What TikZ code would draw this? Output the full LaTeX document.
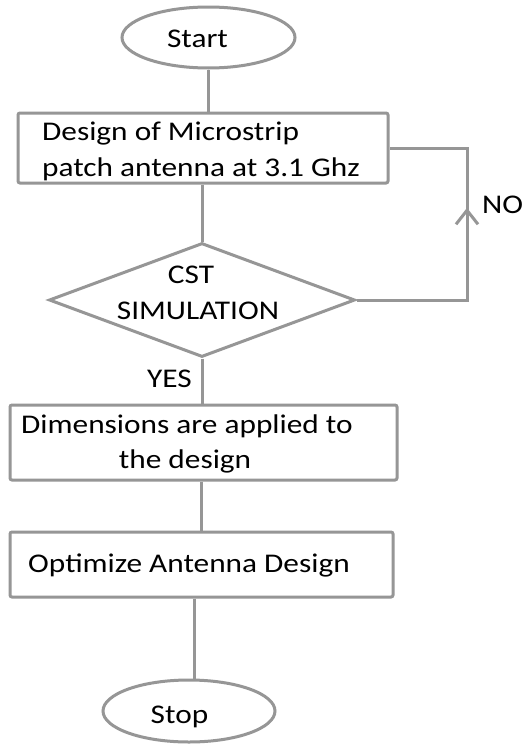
\documentclass[tikz,border=0pt]{standalone}
\usepackage{fontspec}
\setmainfont{Carlito}[FakeStretch=1.16]
\usetikzlibrary{shapes.geometric,arrows.meta,decorations.markings}

\definecolor{linegray}{RGB}{150,150,150}

\tikzset{
  flow/.style={draw=linegray, line width=3pt},
  procbox/.style={flow, rectangle, rounded corners=2pt, inner sep=0pt, fill=white},
  terminal/.style={flow, ellipse, inner sep=0pt, fill=white},
  decision/.style={flow, diamond, inner sep=0pt, fill=white},
  txt/.style={font=\fontsize{27}{36}\selectfont, inner sep=0pt, text=black},
  upmark/.style={decoration={markings,
      mark=at position #1 with {\arrow{Straight Barb[length=14pt,width=22pt]}}},
    postaction={decorate}}
}

\begin{document}
\begin{tikzpicture}[x=1pt,y=-1pt]
  \useasboundingbox[fill=white] (0,0) rectangle (531,744);

  % terminals, process boxes and the decision
  \node[terminal, minimum width=173pt, minimum height=61pt] (start) at (208.5,37.5) {};
  \node[procbox, minimum width=370pt, minimum height=70pt] (design) at (203,148) {};
  \node[decision, minimum width=306pt, minimum height=114pt, aspect=2.68] (cst) at (202,300) {};
  \node[procbox, minimum width=387pt, minimum height=75pt] (dims) at (203.5,442.5) {};
  \node[procbox, minimum width=383pt, minimum height=65pt] (opt) at (201.5,564.5) {};
  \node[terminal, minimum width=172pt, minimum height=62pt] (stop) at (189,711) {};

  % texts
  \node[txt, anchor=base] (tstart) at (197.5,47) {Start};
  \node[txt, anchor=base west] (tdesign1) at (42,140) {Design of Microstrip};
  \node[txt, anchor=base west] (tdesign2) at (42,176) {patch antenna at 3.1 Ghz};
  \node[txt, anchor=base] (tcst1) at (191,283) {CST};
  \node[txt, anchor=base] (tcst2) at (198,319) {SIMULATION};
  \node[txt, anchor=base] (tyes) at (169.5,387) {YES};
  \node[txt, anchor=base] (tno) at (502.5,213) {NO};
  \node[txt, anchor=base west] (tdims1) at (21,433) {Dimensions are applied to};
  \node[txt, anchor=base] (tdims2) at (185,468) {the design};
  \node[txt, anchor=base west] (topt) at (28,572) {Optimize Antenna Design};
  \node[txt, anchor=base] (tstop) at (179.5,723) {Stop};

  % connectors
  \draw[flow] (start.south) -- (start.south |- design.north);
  \draw[flow] (cst.north |- design.south) -- (cst.north);
  \draw[flow] (cst.south) -- (cst.south |- dims.north);
  \draw[flow] (opt.north |- dims.south) -- (opt.north);
  \draw[flow] ([xshift=5pt]stop.north |- opt.south) -- ([xshift=5pt]stop.north);

  % feedback loop back to the design step
  \coordinate (bend) at (467,0);
  \draw[flow, upmark=0.596] (cst.east) -- (cst.east -| bend)
    -- (design.east -| bend) -- (design.east);
\end{tikzpicture}
\end{document}
